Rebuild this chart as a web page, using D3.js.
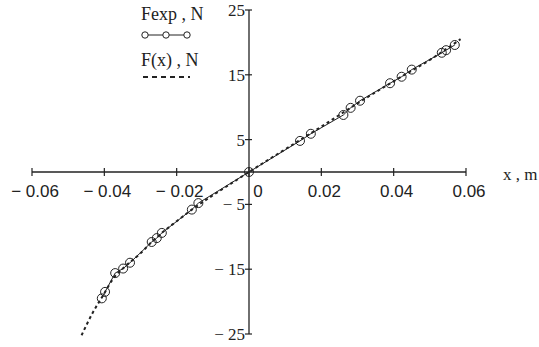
<!DOCTYPE html>
<html>
<head>
<meta charset="utf-8">
<script src="https://cdn.jsdelivr.net/npm/d3@7"></script>
<style>
  body { margin: 0; background: #fff; }
  svg { display: block; }
</style>
</head>
<body>
<div id="chart"></div>
<script>
// measured points (x in m, F in N)
let expX = [-0.0407, -0.0398, -0.0370, -0.0348, -0.0329, -0.0269, -0.0255, -0.0241, -0.0158, -0.0140, 0,
            0.0141, 0.0171, 0.0261, 0.0281, 0.0307, 0.0390, 0.0422, 0.0450, 0.0533, 0.0545, 0.0569];
let expF = [-19.5, -18.5, -15.6, -14.9, -14.0, -10.8, -10.2, -9.4, -5.8, -4.8, 0,
            4.8, 5.9, 8.8, 9.9, 11.0, 13.7, 14.7, 15.8, 18.4, 18.8, 19.6];

// fitted curve F(x)
let fitX = [-0.0463, -0.0431, -0.0403, -0.0375, -0.0343, -0.0301, -0.0269, -0.0241, -0.020, -0.0158,
            -0.010, -0.005, 0, 0.010, 0.020, 0.030, 0.040, 0.050, 0.0585];
let fitF = [-25.2, -21.6, -19.0, -16.4, -14.6, -12.6, -10.8, -9.4, -7.6, -5.8,
            -3.6, -1.8, 0, 3.5, 7.0, 10.6, 14.0, 17.3, 20.5];

let xTicks = [-0.06, -0.04, -0.02, 0, 0.02, 0.04, 0.06];
let yTicks = [-25, -15, -5, 5, 15, 25];
let legendNames = ["Fexp , N", "F(x) , N"];
let xTitle = "x , m";

let svg = d3.select("#chart")
    .append("svg")
    .attr("width", 539)
    .attr("height", 347);

let x = d3.scaleLinear().domain([-0.06, 0.06]).range([32, 466]);
let y = d3.scaleLinear().domain([-25, 25]).range([334, 10]);

let ink = "#222";
let fmtNum = v => (v < 0 ? "\u2212 " : "") + Math.abs(v);

//x axis
svg.append("line")
    .attr("x1", x(-0.06)).attr("x2", x(0.06))
    .attr("y1", y(0)).attr("y2", y(0))
    .attr("stroke", ink).attr("stroke-width", 1.3);

xTicks.forEach(t => {
    svg.append("line")
        .attr("x1", x(t)).attr("x2", x(t))
        .attr("y1", y(0) - 4).attr("y2", y(0) + 4)
        .attr("stroke", ink).attr("stroke-width", 1.2);
    svg.append("text")
        .attr("x", t === 0 ? x(t) + 9 : x(t) + 3)
        .attr("y", 197)
        .attr("text-anchor", "middle")
        .attr("font-family", "Liberation Sans, Arial, sans-serif")
        .attr("font-size", 17)
        .attr("fill", ink)
        .text(t === 0 ? "0" : fmtNum(+t.toFixed(2)));
});

svg.append("text")
    .attr("x", 503).attr("y", 180)
    .attr("font-family", "Liberation Serif, Times New Roman, serif")
    .attr("font-size", 17)
    .attr("fill", ink)
    .text(xTitle);

//y axis
svg.append("line")
    .attr("x1", x(0)).attr("x2", x(0))
    .attr("y1", y(25)).attr("y2", y(-25))
    .attr("stroke", ink).attr("stroke-width", 1.3);

yTicks.forEach(t => {
    svg.append("line")
        .attr("x1", x(0) - 4).attr("x2", x(0) + 3)
        .attr("y1", y(t)).attr("y2", y(t))
        .attr("stroke", ink).attr("stroke-width", 1.2);
    svg.append("text")
        .attr("x", x(0) - 4)
        .attr("y", y(t) + 6)
        .attr("text-anchor", "end")
        .attr("font-family", "Liberation Serif, Times New Roman, serif")
        .attr("font-size", 17)
        .attr("fill", ink)
        .text(fmtNum(t));
});

let line = d3.line()
    .x(d => x(d[0]))
    .y(d => y(d[1]));

//measured series: thin line + circles
let expPts = d3.zip(expX, expF);
svg.append("path")
    .datum(expPts)
    .attr("d", line)
    .attr("fill", "none")
    .attr("stroke", ink)
    .attr("stroke-width", 1);

svg.selectAll(".pt")
    .data(expPts)
    .enter()
    .append("circle")
    .attr("class", "pt")
    .attr("cx", d => x(d[0]))
    .attr("cy", d => y(d[1]))
    .attr("r", 4.5)
    .attr("fill", "none")
    .attr("stroke", ink)
    .attr("stroke-width", 1);

//fitted curve
svg.append("path")
    .datum(d3.zip(fitX, fitF))
    .attr("d", line.curve(d3.curveMonotoneX))
    .attr("fill", "none")
    .attr("stroke", ink)
    .attr("stroke-width", 2)
    .attr("stroke-dasharray", "3,3");

//legend
let lg = svg.append("g").attr("font-family", "Liberation Serif, Times New Roman, serif")
    .attr("font-size", 18).attr("fill", ink);
lg.append("text").attr("x", 141).attr("y", 20).text(legendNames[0]);
lg.append("line").attr("x1", 145).attr("x2", 188).attr("y1", 35).attr("y2", 35)
    .attr("stroke", ink).attr("stroke-width", 1);
[145, 166, 187].forEach(cx =>
    lg.append("circle").attr("cx", cx).attr("cy", 35).attr("r", 3.2)
      .attr("fill", "#fff").attr("stroke", ink).attr("stroke-width", 1)
);
lg.append("text").attr("x", 141).attr("y", 66).text(legendNames[1]);
lg.append("line").attr("x1", 143).attr("x2", 190).attr("y1", 77).attr("y2", 77)
    .attr("stroke", ink).attr("stroke-width", 2).attr("stroke-dasharray", "5,4");
</script>
</body>
</html>
